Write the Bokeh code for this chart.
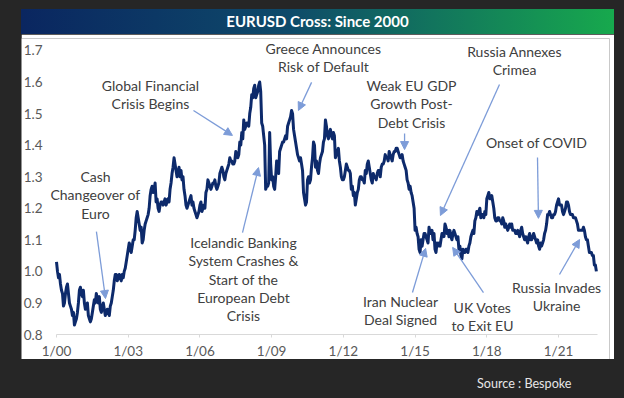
from bokeh.plotting import figure
from bokeh.models import (ColumnDataSource, Range1d, FixedTicker, Arrow, NormalHead, LabelSet,
                          Div, GlobalInlineStyleSheet, NumeralTickFormatter)
from bokeh.layouts import column
from bokeh.core.properties import value
from bokeh.embed import file_html
from bokeh.resources import INLINE

# ---- data: EURUSD levels (start and middle of each month) ----
start_year = 2000
y2000 = [1.03, 0.98, 0.96, 0.93, 0.90, 0.95, 0.93, 0.89, 0.86, 0.83, 0.85, 0.90]
m2000 = [1.00, 0.99, 0.94, 0.89, 0.93, 0.96, 0.90, 0.88, 0.87, 0.84, 0.87, 0.94]
y2001 = [0.95, 0.92, 0.90, 0.89, 0.86, 0.84, 0.87, 0.91, 0.93, 0.90, 0.88, 0.89]
m2001 = [0.93, 0.94, 0.88, 0.90, 0.85, 0.85, 0.89, 0.90, 0.91, 0.92, 0.87, 0.90]
y2002 = [0.88, 0.87, 0.87, 0.89, 0.92, 0.97, 0.99, 0.98, 0.98, 0.99, 1.00, 1.03]
m2002 = [0.86, 0.88, 0.86, 0.90, 0.94, 0.99, 0.97, 0.99, 0.97, 0.98, 1.01, 1.05]
y2003 = [1.07, 1.08, 1.08, 1.10, 1.17, 1.17, 1.13, 1.09, 1.13, 1.16, 1.18, 1.24]
m2003 = [1.09, 1.06, 1.10, 1.13, 1.19, 1.15, 1.14, 1.10, 1.15, 1.17, 1.20, 1.26]
y2004 = [1.27, 1.26, 1.22, 1.20, 1.21, 1.22, 1.22, 1.21, 1.23, 1.26, 1.31, 1.36]
m2004 = [1.25, 1.28, 1.23, 1.19, 1.22, 1.21, 1.23, 1.22, 1.22, 1.28, 1.33, 1.34]
y2005 = [1.32, 1.31, 1.30, 1.29, 1.26, 1.21, 1.21, 1.23, 1.21, 1.20, 1.18, 1.18]
m2005 = [1.30, 1.33, 1.32, 1.30, 1.24, 1.20, 1.22, 1.24, 1.22, 1.19, 1.17, 1.19]
y2006 = [1.21, 1.19, 1.21, 1.25, 1.29, 1.27, 1.27, 1.28, 1.27, 1.27, 1.31, 1.33]
m2006 = [1.22, 1.20, 1.20, 1.26, 1.28, 1.26, 1.28, 1.29, 1.26, 1.28, 1.32, 1.32]
y2007 = [1.30, 1.31, 1.33, 1.36, 1.35, 1.34, 1.38, 1.36, 1.41, 1.44, 1.48, 1.46]
m2007 = [1.29, 1.32, 1.34, 1.35, 1.34, 1.35, 1.37, 1.37, 1.40, 1.42, 1.45, 1.47]
y2008 = [1.47, 1.50, 1.56, 1.58, 1.55, 1.57, 1.60, 1.47, 1.43, 1.26, 1.27, 1.44]
m2008 = [1.46, 1.52, 1.55, 1.59, 1.56, 1.59, 1.57, 1.46, 1.40, 1.27, 1.28, 1.34]
y2009 = [1.29, 1.27, 1.30, 1.32, 1.38, 1.40, 1.41, 1.43, 1.46, 1.48, 1.51, 1.45]
m2009 = [1.30, 1.26, 1.35, 1.31, 1.39, 1.41, 1.42, 1.42, 1.47, 1.49, 1.50, 1.43]
y2010 = [1.41, 1.37, 1.35, 1.34, 1.25, 1.21, 1.29, 1.28, 1.33, 1.41, 1.33, 1.32]
m2010 = [1.39, 1.36, 1.36, 1.32, 1.23, 1.22, 1.30, 1.29, 1.36, 1.40, 1.35, 1.31]
y2011 = [1.34, 1.37, 1.41, 1.48, 1.43, 1.44, 1.43, 1.44, 1.36, 1.38, 1.35, 1.30]
m2011 = [1.36, 1.38, 1.42, 1.46, 1.42, 1.45, 1.42, 1.43, 1.37, 1.39, 1.33, 1.29]
y2012 = [1.29, 1.32, 1.33, 1.32, 1.26, 1.24, 1.21, 1.25, 1.29, 1.30, 1.29, 1.32]
m2012 = [1.30, 1.34, 1.32, 1.31, 1.27, 1.25, 1.23, 1.26, 1.30, 1.29, 1.28, 1.31]
y2013 = [1.34, 1.33, 1.29, 1.31, 1.30, 1.31, 1.32, 1.33, 1.34, 1.37, 1.36, 1.38]
m2013 = [1.35, 1.31, 1.28, 1.30, 1.29, 1.32, 1.30, 1.34, 1.35, 1.36, 1.35, 1.37]
y2014 = [1.36, 1.37, 1.38, 1.39, 1.37, 1.36, 1.35, 1.33, 1.29, 1.26, 1.25, 1.22]
m2014 = [1.35, 1.38, 1.39, 1.38, 1.36, 1.37, 1.34, 1.32, 1.28, 1.27, 1.24, 1.20]
y2015 = [1.13, 1.12, 1.07, 1.10, 1.10, 1.12, 1.10, 1.14, 1.12, 1.10, 1.07, 1.09]
m2015 = [1.14, 1.11, 1.06, 1.08, 1.12, 1.11, 1.09, 1.12, 1.13, 1.12, 1.06, 1.08]
y2016 = [1.09, 1.10, 1.12, 1.15, 1.12, 1.11, 1.11, 1.12, 1.12, 1.10, 1.07, 1.05]
m2016 = [1.08, 1.12, 1.11, 1.14, 1.13, 1.13, 1.10, 1.13, 1.11, 1.11, 1.08, 1.04]
y2017 = [1.07, 1.06, 1.07, 1.08, 1.11, 1.13, 1.16, 1.19, 1.19, 1.17, 1.18, 1.19]
m2017 = [1.06, 1.07, 1.06, 1.09, 1.12, 1.12, 1.17, 1.18, 1.20, 1.18, 1.17, 1.18]
y2018 = [1.23, 1.25, 1.23, 1.22, 1.17, 1.16, 1.17, 1.16, 1.17, 1.14, 1.14, 1.14]
m2018 = [1.24, 1.23, 1.24, 1.20, 1.16, 1.17, 1.16, 1.15, 1.16, 1.15, 1.13, 1.15]
y2019 = [1.14, 1.13, 1.13, 1.12, 1.12, 1.13, 1.12, 1.10, 1.10, 1.11, 1.10, 1.11]
m2019 = [1.15, 1.13, 1.12, 1.13, 1.11, 1.14, 1.11, 1.11, 1.09, 1.12, 1.10, 1.12]
y2020 = [1.11, 1.09, 1.08, 1.09, 1.09, 1.12, 1.15, 1.18, 1.18, 1.17, 1.18, 1.21]
m2020 = [1.10, 1.10, 1.07, 1.08, 1.10, 1.13, 1.18, 1.19, 1.17, 1.18, 1.19, 1.22]
y2021 = [1.23, 1.21, 1.19, 1.19, 1.22, 1.21, 1.18, 1.18, 1.17, 1.16, 1.13, 1.13]
m2021 = [1.21, 1.21, 1.18, 1.20, 1.22, 1.19, 1.18, 1.17, 1.17, 1.15, 1.13, 1.13]
y2022 = [1.13, 1.13, 1.10, 1.08, 1.06, 1.05, 1.02, 1.00]
m2022 = [1.14, 1.11, 1.10, 1.06, 1.06, 1.05, 1.02]

tick_years = [2000, 2003, 2006, 2009, 2012, 2015, 2018, 2021]
tick_labels = ["1/00", "1/03", "1/06", "1/09", "1/12", "1/15", "1/18", "1/21"]
y_ticks = [0.8, 0.9, 1.0, 1.1, 1.2, 1.3, 1.4, 1.5, 1.6, 1.7]

# annotations (text anchor = centre of first line, in data units) and arrows
ann_text = ["Cash\nChangeover of\nEuro",
            "Global Financial\nCrisis Begins",
            "Icelandic Banking\nSystem Crashes &\nStart of the\nEuropean Debt\nCrisis",
            "Greece Announces\nRisk of Default",
            "Weak EU GDP\nGrowth Post-\nDebt Crisis",
            "Russia Annexes\nCrimea",
            "Onset of COVID",
            "Iran Nuclear\nDeal Signed",
            "UK Votes\nto Exit EU",
            "Russia Invades\nUkraine"]
ann_x = [2001.63, 2003.93, 2007.82, 2011.17, 2014.85, 2019.16, 2020.08, 2014.39, 2017.82, 2020.92]
ann_y = [1.301, 1.589, 1.092, 1.706, 1.589, 1.697, 1.408, 0.905, 0.886, 0.949]
arr_x0 = [2001.67, 2005.73, 2007.78, 2010.67, 2014.56, 2018.53, 2020.12, 2014.89, 2017.86, 2021.04]
arr_y0 = [1.126, 1.510, 1.123, 1.599, 1.437, 1.592, 1.361, 0.933, 0.933, 0.990]
arr_x1 = [2002.05, 2007.36, 2008.45, 2010.12, 2014.56, 2016.06, 2020.16, 2015.44, 2016.57, 2021.88]
arr_y1 = [0.914, 1.431, 1.329, 1.510, 1.386, 1.177, 1.168, 1.073, 1.076, 1.101]

# ---- build series ----
starts = [y2000, y2001, y2002, y2003, y2004, y2005, y2006, y2007, y2008, y2009, y2010, y2011,
          y2012, y2013, y2014, y2015, y2016, y2017, y2018, y2019, y2020, y2021, y2022]
mids = [m2000, m2001, m2002, m2003, m2004, m2005, m2006, m2007, m2008, m2009, m2010, m2011,
        m2012, m2013, m2014, m2015, m2016, m2017, m2018, m2019, m2020, m2021, m2022]
xs, ys = [], []
for i, (sv, mv) in enumerate(zip(starts, mids)):
    for m, v in enumerate(sv):
        xs.append(start_year + i + m / 12.0)
        ys.append(v)
        if m < len(mv):
            xs.append(start_year + i + (m + 0.5) / 12.0)
            ys.append(mv[m])
src = ColumnDataSource(dict(x=xs, y=ys))

PX_PER_UNIT = 315.6     # vertical pixels per 1.0 of EURUSD
PX_PER_YEAR = 23.906    # horizontal pixels per year
LINE_GAP = 18.4 / PX_PER_UNIT
tx, ty, tt = [], [], []
for text, x0, y0 in zip(ann_text, ann_x, ann_y):
    for j, line in enumerate(text.split("\n")):
        tx.append(x0)
        ty.append(y0 - j * LINE_GAP)
        tt.append(line)
tsrc = ColumnDataSource(dict(x=tx, y=ty, text=tt))
asrc = ColumnDataSource(dict(x0=arr_x0, y0=arr_y0, x1=arr_x1, y1=arr_y1))

FONT = "Lato"
BG = "#262626"
X_MIN, X_MAX = 2000.0, 2022.63
Y_MIN = 0.8
# the frame fills the white panel; both axes sit at fixed data locations inside it
x_left = X_MIN - 35 / PX_PER_YEAR
x_right = X_MAX + 12 / PX_PER_YEAR
y_bottom = Y_MIN - 25 / PX_PER_UNIT

p = figure(width=593, height=325, output_backend="svg", toolbar_location=None,
           x_range=Range1d(x_left, x_right), y_range=Range1d(y_bottom, 1.738),
           min_border_left=0, min_border_right=5, min_border_top=4, min_border_bottom=0,
           background_fill_color="white", border_fill_color="white", outline_line_color=None,
           margin=(0, 0, 0, 13))
p.xgrid.visible = False
p.ygrid.visible = False

p.line("x", "y", source=src, line_color="#0d2a6b", line_width=3, line_join="round")

p.add_layout(LabelSet(x="x", y="y", text="text", source=tsrc, text_align="center",
                      text_baseline="middle", text_font=value(FONT), text_font_size="14px",
                      text_color="#404040"))

p.add_layout(Arrow(source=asrc, x_start="x0", y_start="y0", x_end="x1", y_end="y1",
                   line_color="#7d9cd8", line_width=1.3,
                   end=NormalHead(size=8, fill_color="#7d9cd8", line_color="#7d9cd8")))

p.yaxis.fixed_location = X_MIN
p.yaxis.ticker = FixedTicker(ticks=y_ticks)
p.yaxis.formatter = NumeralTickFormatter(format="0.0")
p.yaxis.axis_line_color = None
p.yaxis.major_tick_line_color = None
p.yaxis.minor_tick_line_color = None
p.yaxis.major_label_standoff = 8
p.yaxis.major_label_text_font = FONT
p.yaxis.major_label_text_font_size = "13.5px"
p.yaxis.major_label_text_color = "#595959"

p.xaxis.fixed_location = Y_MIN
p.xaxis.bounds = (X_MIN, X_MAX)
p.xaxis.ticker = FixedTicker(ticks=tick_years)
p.xaxis.major_label_overrides = {y: l for y, l in zip(tick_years, tick_labels)}
p.xaxis.axis_line_color = "#d9d9d9"
p.xaxis.major_tick_line_color = "#d9d9d9"
p.xaxis.major_tick_out = 3
p.xaxis.major_tick_in = 0
p.xaxis.minor_tick_line_color = None
p.xaxis.major_label_standoff = 5
p.xaxis.major_label_text_font = FONT
p.xaxis.major_label_text_font_size = "13.5px"
p.xaxis.major_label_text_color = "#595959"

title_div = Div(text="EURUSD Cross: Since 2000", width=593, height=25, margin=(1, 0, 0, 13),
                styles={"background": "linear-gradient(to right, #0a2660 0%, #0e4a6a 45%, #17a94d 100%)",
                        "color": "white", "font-family": FONT, "font-weight": "bold",
                        "font-size": "15px", "text-align": "center", "line-height": "25px"})

source_div = Div(text="Source : Bespoke", width=140, height=16, margin=(17, 0, 0, 469),
                 styles={"color": "#e6e6e6", "font-family": FONT, "font-size": "12.6px",
                         "line-height": "16px"})

layout = column(title_div, p, source_div, spacing=0,
                stylesheets=[GlobalInlineStyleSheet(
                    css="body { background-color: %s; margin: 8px 8px 0 8px; overflow: hidden; }" % BG)])

open("out.html", "w").write(file_html(layout, INLINE))
